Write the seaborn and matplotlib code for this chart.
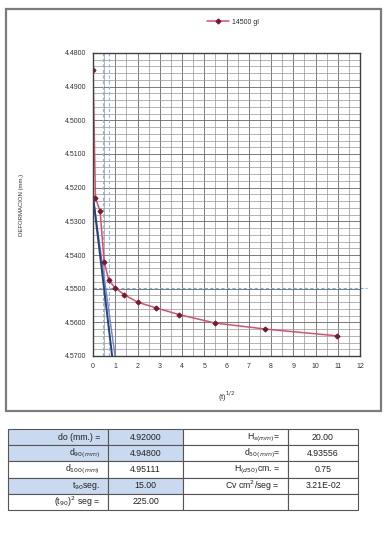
import matplotlib
matplotlib.use("Agg")
import matplotlib.pyplot as plt
import seaborn as sns
import numpy as np
import pandas as pd
from matplotlib.patches import Rectangle
from matplotlib.ticker import MultipleLocator, FormatStrFormatter

# ---------------- data ----------------
sqrt_t = [0.0, 0.11, 0.32, 0.50, 0.71, 1.00, 1.41, 2.00, 2.83, 3.87, 5.48, 7.75, 10.95]
deform = [4.4850, 4.5230, 4.5270, 4.5420, 4.5475, 4.5498, 4.5518, 4.5540, 4.5557,
          4.5577, 4.5602, 4.5620, 4.5640]
series_label = "14500 gl"

tangent_x = [0.0, 0.86]
tangent_y = [4.5225, 4.5700]
taylor_x = [0.0, 0.99]
taylor_y = [4.5225, 4.5700]
ref_level = 4.5497
vert_refs = [0.45, 0.72]

table_rows = [
    ["do (mm.) =", "4.92000", r"H$_{s(mm)}$=", "20.00"],
    [r"d$_{90(mm)}$", "4.94800", r"d$_{50(mm)}$=", "4.93556"],
    [r"d$_{100(mm)}$", "4.95111", r"H$_{(d50)}$cm. =", "0.75"],
    [r"t$_{90}$seg.", "15.00", r"Cv cm$^{2}$/seg =", "3.21E-02"],
    [r"(t$_{90}$)$^{2}$ seg =", "225.00", "", ""],
]
shaded_rows = [0, 1, 3]

# ---------------- figure ----------------
sns.set_style("white")
plt.rcParams['font.family'] = ['Liberation Sans', 'DejaVu Sans']
W, H = 391, 533
fig = plt.figure(figsize=(W / 100, H / 100), dpi=100)

def fx(px):
    return px / W

def fy(py):
    return 1 - py / H

# outer chart frame
fig.patches.append(Rectangle((fx(6), fy(411)), fx(381) - fx(6), fy(9) - fy(411),
                             transform=fig.transFigure, fill=False,
                             ec='#7c7c7c', lw=1.6))

ax = fig.add_axes([fx(93), fy(356), fx(360) - fx(93), fy(53) - fy(356)])

ax.set_xlim(0, 12)
ax.set_ylim(4.57, 4.48)
ax.xaxis.set_major_locator(MultipleLocator(1))
ax.xaxis.set_minor_locator(MultipleLocator(0.5))
ax.yaxis.set_major_locator(MultipleLocator(0.01))
ax.yaxis.set_minor_locator(MultipleLocator(0.002))
ax.yaxis.set_major_formatter(FormatStrFormatter('%.4f'))
ax.grid(True, which='major', color='#666666', lw=0.6)
ax.grid(True, which='minor', color='#959595', lw=0.5)
ax.set_axisbelow(True)
for s in ax.spines.values():
    s.set_color('#404040')
    s.set_linewidth(1.0)
ax.tick_params(axis='both', which='major', labelsize=5, length=4, direction='inout',
               color='#404040', pad=3, labelcolor='#333333')
ax.tick_params(axis='y', which='minor', length=2.5, direction='inout', color='#404040')
ax.tick_params(axis='x', which='minor', length=0)

# reference lines
for vx in vert_refs:
    ax.axvline(vx, color='#8fb8e0', lw=0.8, ls=(0, (3, 2)))
ax.plot([0, 12.3], [ref_level, ref_level], color='#6fb8d8', lw=0.8, ls=(0, (3, 2)),
        clip_on=False)

# Taylor construction lines
sns.lineplot(x=taylor_x, y=taylor_y, ax=ax, color='#6a86c8', lw=1.0, legend=False)
sns.lineplot(x=tangent_x, y=tangent_y, ax=ax, color='#2c3f7c', lw=1.4, legend=False)

# main series
df = pd.DataFrame({"x": sqrt_t, "y": deform})
sns.lineplot(data=df, x="x", y="y", ax=ax, sort=False, estimator=None,
             color='#d9506a', lw=1.1, marker='D', markersize=2.6,
             markerfacecolor='#7a1830', markeredgecolor='#7a1830',
             label=series_label)

ax.set_xlabel("(t)$^{1/2}$", fontsize=5.5, labelpad=14, color='#333333')
ax.set_ylabel("")
fig.text(fx(22), fy(205), "DEFORMACION (mm.)", rotation=90, fontsize=4.3,
         ha='center', va='center', color='#333333')

leg = ax.legend(loc='center', bbox_to_anchor=(fx(233), fy(22)),
                bbox_transform=fig.transFigure, frameon=False, fontsize=5,
                handlelength=3.2, handletextpad=0.5)

# ---------------- table ----------------
col_edges = [8, 108, 183, 288, 358]
row_top = 429
row_h = 16.2
tax = fig.add_axes([0, 0, 1, 1])
tax.set_xlim(0, W)
tax.set_ylim(H, 0)
tax.axis('off')
for r, row in enumerate(table_rows):
    y0 = row_top + r * row_h
    for c in range(4):
        x0, x1 = col_edges[c], col_edges[c + 1]
        fc = '#c9daf0' if (r in shaded_rows and c < 2) else 'white'
        tax.add_patch(Rectangle((x0, y0), x1 - x0, row_h, fc=fc, ec='#555555', lw=0.8))
        txt = row[c]
        if not txt:
            continue
        yc = y0 + row_h / 2
        if c in (0, 2):
            tax.text(x1 - 8, yc, txt, ha='right', va='center', fontsize=6.3, color='#222222')
        else:
            tax.text((x0 + x1) / 2, yc, txt, ha='center', va='center', fontsize=6.3,
                     color='#222222')

fig.savefig("out.png", dpi=100)
